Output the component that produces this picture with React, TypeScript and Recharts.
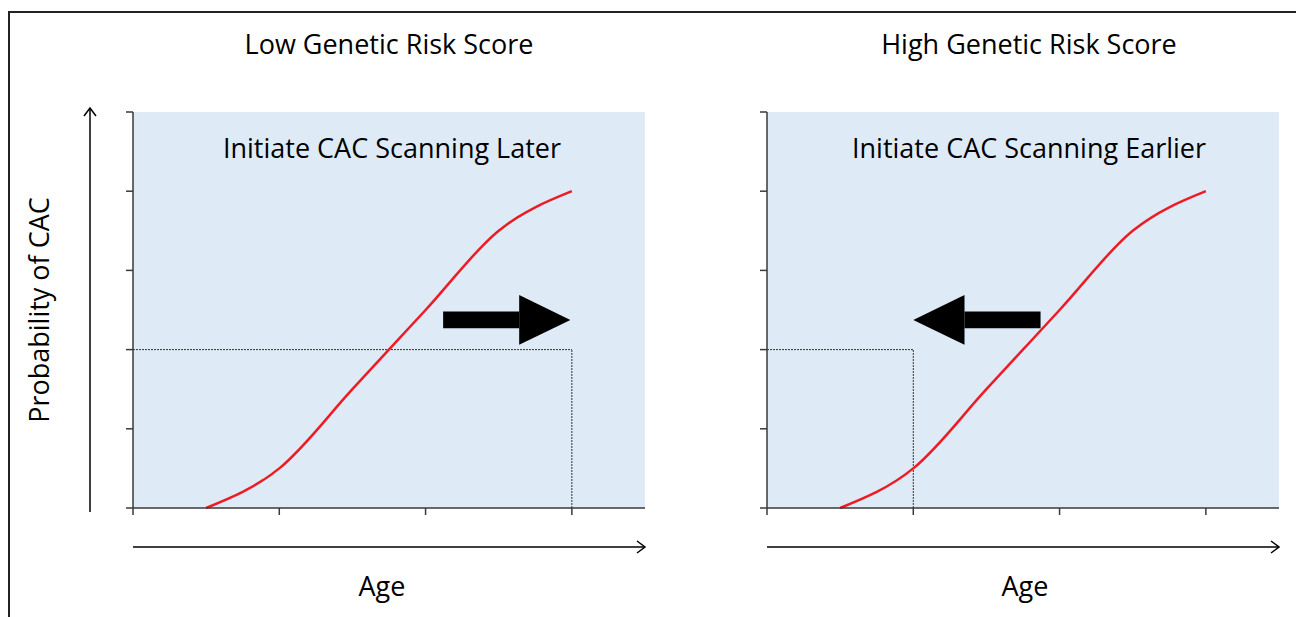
import React from "react";
import {
  LineChart,
  Line,
  XAxis,
  YAxis,
  CartesianGrid,
  ReferenceLine,
  ReferenceArea,
} from "recharts";

// ---- data ----
const ages = [0.5, 1, 1.5, 2, 2.5, 3];
const probability = [0, 0.5, 1.5, 2.5, 3.5, 4];
const xTicks = [0, 1, 2, 3];
const yTicks = [0, 1, 2, 3, 4, 5];
const xDomain = [0, 3.5];
const yDomain = [0, 5];

const panelTitles = ["Low Genetic Risk Score", "High Genetic Risk Score"];
const panelNotes = ["Initiate CAC Scanning Later", "Initiate CAC Scanning Earlier"];
const thresholdAge = [3, 1];
const thresholdProb = [2, 2];
// arrow: [tail, headBase, tip] in age units; head / body vertical extents in prob units
const arrowX = [
  [2.12, 2.64, 2.99],
  [1.87, 1.35, 1.0],
];
const arrowHeadY = [2.06, 2.69];
const arrowBodyY = [2.27, 2.48];

const xLabel = "Age";
const yLabel = "Probability of CAC";

const rows = ages.map((a, i) => ({ age: a, p: probability[i] }));

const FONT = "'Open Sans', sans-serif";
const AXIS = "#3a3a3a";

const headShape = (dir: "right" | "left") => (props: any) => {
  const { x, y, width, height } = props;
  const pts =
    dir === "right"
      ? `${x},${y} ${x + width},${y + height / 2} ${x},${y + height}`
      : `${x + width},${y} ${x},${y + height / 2} ${x + width},${y + height}`;
  return <polygon points={pts} fill="#000" />;
};

const EmptyTick = () => <g />;

function Panel({ idx }: { idx: number }) {
  const [tail, base, tip] = arrowX[idx];
  const dir = tip > tail ? "right" : "left";
  return (
    <LineChart
      width={700}
      height={609}
      data={rows}
      margin={{ top: 104, left: 124, right: 63, bottom: 108 }}
    >
      <CartesianGrid fill="#DEEBF7" stroke="none" horizontal={false} vertical={false} />
      <XAxis
        dataKey="age"
        type="number"
        domain={xDomain}
        ticks={xTicks}
        tick={EmptyTick}
        height={1}
        axisLine={{ stroke: AXIS, strokeWidth: 1.5 }}
        tickLine={{ stroke: AXIS, strokeWidth: 1.5 }}
        tickSize={7}
      />
      <YAxis
        type="number"
        domain={yDomain}
        ticks={yTicks}
        tick={EmptyTick}
        width={1}
        axisLine={{ stroke: AXIS, strokeWidth: 1.5 }}
        tickLine={{ stroke: AXIS, strokeWidth: 1.5 }}
        tickSize={7}
      />
      <ReferenceLine
        segment={[
          { x: 0, y: thresholdProb[idx] },
          { x: thresholdAge[idx], y: thresholdProb[idx] },
        ]}
        stroke="#333"
        strokeDasharray="2 1"
        strokeWidth={1}
      />
      <ReferenceLine
        segment={[
          { x: thresholdAge[idx], y: 0 },
          { x: thresholdAge[idx], y: thresholdProb[idx] },
        ]}
        stroke="#333"
        strokeDasharray="2 1"
        strokeWidth={1}
      />
      <ReferenceArea
        x1={Math.min(tail, base)}
        x2={Math.max(tail, base)}
        y1={arrowBodyY[0]}
        y2={arrowBodyY[1]}
        fill="#000"
        fillOpacity={1}
        stroke="none"
      />
      <ReferenceArea
        x1={Math.min(base, tip)}
        x2={Math.max(base, tip)}
        y1={arrowHeadY[0]}
        y2={arrowHeadY[1]}
        shape={headShape(dir)}
      />
      <Line
        dataKey="p"
        type="monotone"
        stroke="#ED1C24"
        strokeWidth={2.5}
        dot={false}
        isAnimationActive={false}
      />
    </LineChart>
  );
}

export default function App() {
  const txt = { fontFamily: FONT, fontSize: 27, fill: "#000" } as const;
  return (
    <div
      style={{
        position: "fixed",
        left: 8,
        top: 8,
        width: 1288,
        height: 609,
        overflow: "hidden",
        background: "#fff",
      }}
    >
      <div style={{ position: "absolute", left: 0, top: 0 }}>
        <Panel idx={0} />
      </div>
      <div style={{ position: "absolute", left: 634, top: 0 }}>
        <Panel idx={1} />
      </div>
      <svg
        width={1288}
        height={609}
        style={{ position: "absolute", left: 0, top: 0, pointerEvents: "none" }}
      >
        <g transform="translate(-8,-8)">
          <rect x={9} y={12} width={1400} height={800} fill="none" stroke="#222" strokeWidth={2} />
          <text x={389} y={54} textAnchor="middle" {...txt}>{panelTitles[0]}</text>
          <text x={1029} y={54} textAnchor="middle" {...txt}>{panelTitles[1]}</text>
          <text x={392} y={158} textAnchor="middle" {...txt}>{panelNotes[0]}</text>
          <text x={1029} y={158} textAnchor="middle" {...txt}>{panelNotes[1]}</text>
          <text x={382} y={596} textAnchor="middle" {...txt}>{xLabel}</text>
          <text x={1025} y={596} textAnchor="middle" {...txt}>{xLabel}</text>
          <text
            x={0}
            y={0}
            textAnchor="middle"
            transform="translate(49,310) rotate(-90)"
            {...txt}
          >
            {yLabel}
          </text>
          {/* axis arrows */}
          <g stroke="#000" strokeWidth={1.5} fill="none">
            <line x1={90} y1={108} x2={90} y2={512} />
            <polyline points="84,116 90,108 96,116" />
            <line x1={133} y1={547} x2={645} y2={547} />
            <polyline points="637,541 645,547 637,553" />
            <line x1={767} y1={547} x2={1279} y2={547} />
            <polyline points="1271,541 1279,547 1271,553" />
          </g>
        </g>
      </svg>
    </div>
  );
}
